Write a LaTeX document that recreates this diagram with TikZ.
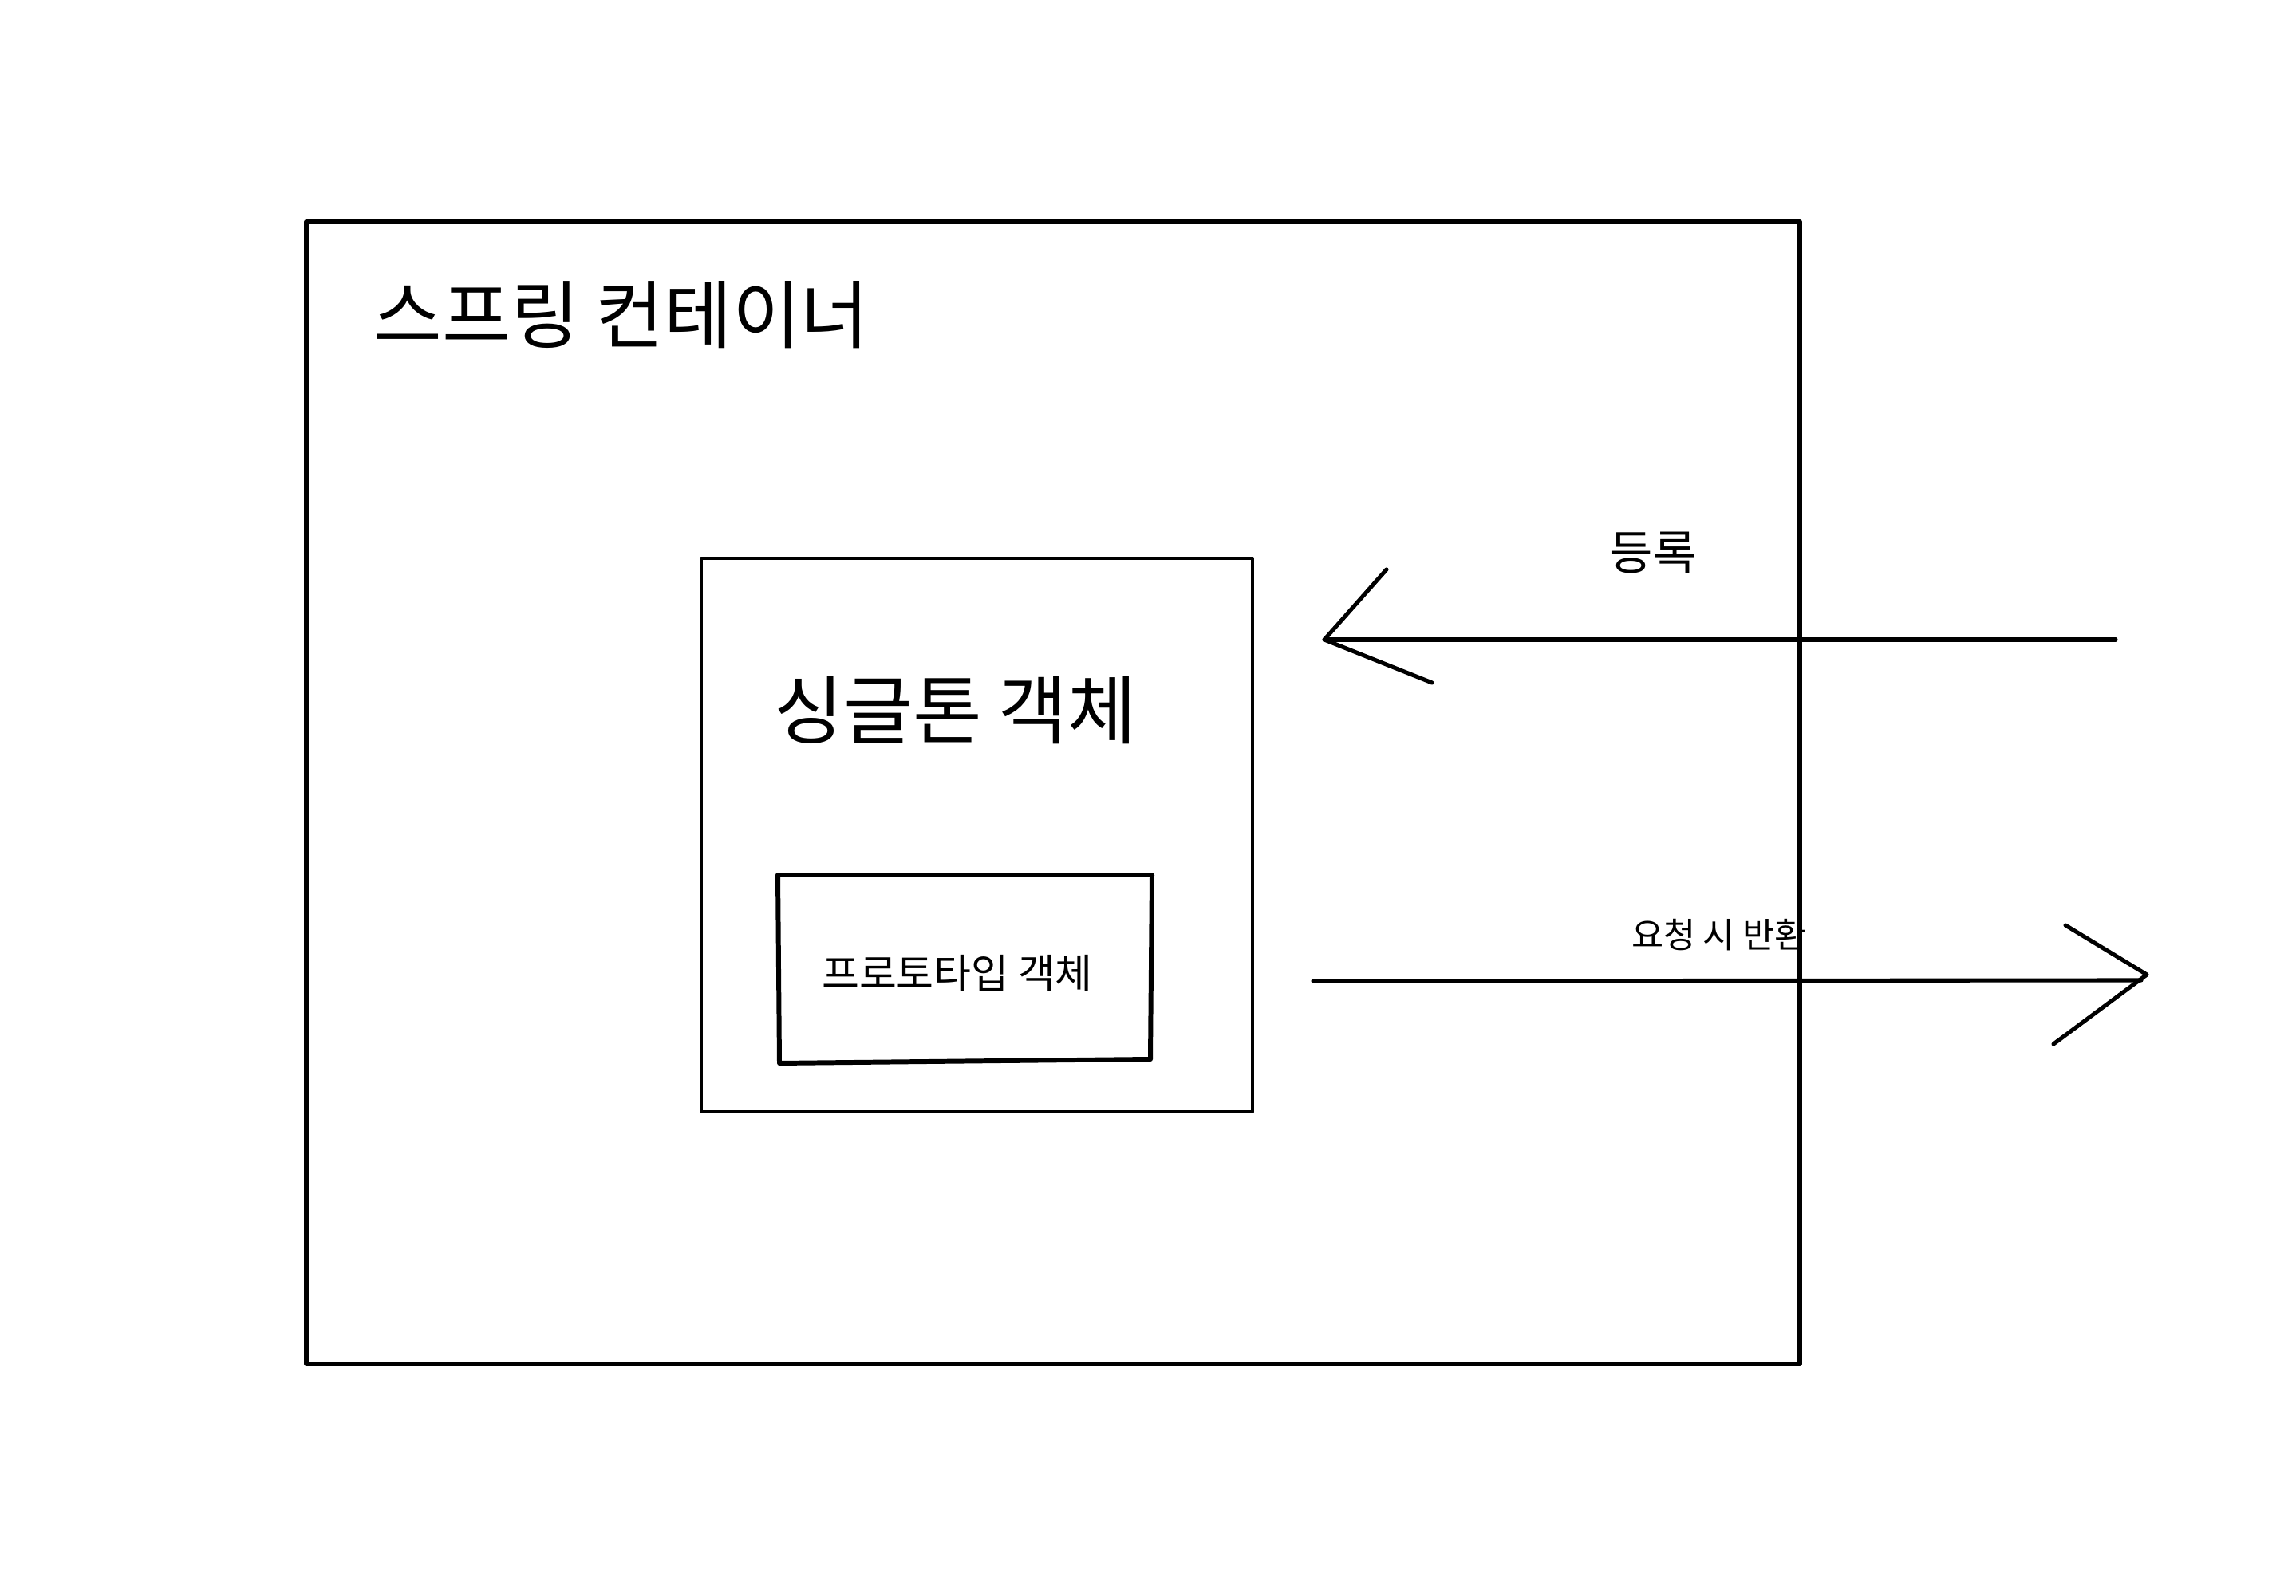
\documentclass[tikz,border=0pt]{standalone}
\usepackage{fontspec}
\setmainfont{Noto Sans CJK KR}
\begin{document}
\begin{tikzpicture}[line cap=round,line join=round,
    frame/.style={draw=black,line width=1.45pt},
    objbox/.style={draw=black,line width=1.1pt},
    label/.style={inner sep=0pt,font=\fontsize{#1}{#1}\selectfont},
    arrowline/.style={draw=black,line width=1.45pt}]
        \useasboundingbox (0,0) rectangle (28.78,20);
        % container
        \draw[frame](3.84,17.22)rectangle(22.56,2.90);
        \node[label=26.5pt,anchor=west](spring)at(4.68,16.05){스프링 컨테이너};
        % singleton
        \draw[objbox](8.79,13.00)rectangle(15.70,6.06);
        \node[label=26.8pt](single)at(11.98,11.10){싱글톤 객체};
        % prototype
        \draw[frame,line width=1.7pt](9.75,9.03)--(14.44,9.03)--(14.42,6.72)--(9.77,6.67)--cycle;
        \node[label=14.5pt](proto)at(12.00,7.80){프로토타입 객체};
        % register
        \coordinate(regfrom)at(26.52,11.98);
        \coordinate(regtip)at(16.60,11.98);
        \coordinate(regup)at(17.38,12.86);
        \coordinate(regdn)at(17.95,11.44);
        \draw[arrowline](regfrom)--(regtip);
        \draw[arrowline](regup)--(regtip)--(regdn);
        \node[label=16.8pt](reg)at(20.72,13.07){등록};
        % return on request
        \coordinate(retfrom)at(16.46,7.70);
        \coordinate(rettip)at(26.91,7.78);
        \coordinate(retup)at(25.89,8.40);
        \coordinate(retdn)at(25.74,6.91);
        \draw[arrowline](retfrom)--(26.84,7.71);
        \draw[arrowline](retup)--(rettip)--(retdn);
        \node[label=12.4pt](ret)at(21.55,8.28){요청 시 반환};
    \end{tikzpicture}
\end{document}
